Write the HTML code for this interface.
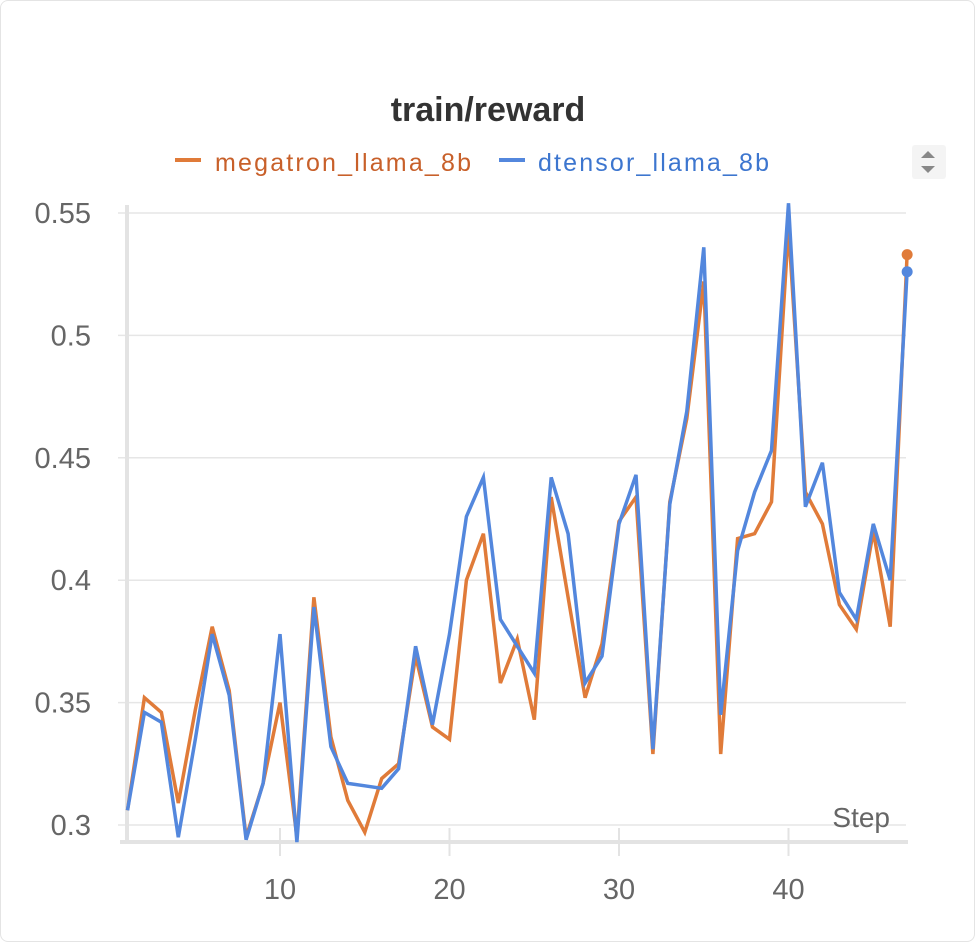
<!DOCTYPE html>
<html><head><meta charset="utf-8">
<style>
html,body{margin:0;padding:0;background:#fff;}
body{width:975px;height:937px;overflow:hidden;font-family:"Liberation Sans",sans-serif;}
.card{position:absolute;left:0;top:0;width:973px;height:940px;border:1px solid #e4e4e4;border-radius:8px;}
</style></head>
<body>
<div class="card"></div>
<svg id="chart" width="975" height="937" style="position:absolute;left:0;top:0">
<text x="488" y="121" text-anchor="middle" font-size="34" font-weight="bold" fill="#333">train/reward</text>
<g>
<line x1="175" y1="160" x2="201" y2="160" stroke="#e07b39" stroke-width="4"/>
<text x="215" y="171" font-size="25" fill="#c8602a" textLength="256">megatron_llama_8b</text></g>
<g>
<line x1="499" y1="160" x2="525" y2="160" stroke="#5387dd" stroke-width="4"/>
<text x="538" y="171" font-size="25" fill="#3d76cf" textLength="231">dtensor_llama_8b</text></g>
<g>
<rect x="912" y="145" width="34" height="34" fill="#f4f4f4" rx="3"/>
<path d="M921 158 L928 151 L935 158 Z" fill="#888"/><path d="M921 166 L928 173 L935 166 Z" fill="#888"/></g>
<g id="grid"></g>
<g id="axes"></g>
<g id="series"></g>
<text x="890" y="827" text-anchor="end" font-size="28" fill="#666">Step</text>
</svg>
<script>
const steps=[1,2,3,4,5,6,7,8,9,10,11,12,13,14,15,16,17,18,19,20,21,22,23,24,25,26,27,28,29,30,31,32,33,34,35,36,37,38,39,40,41,42,43,44,45,46,47];
const megatron=[0.306,0.352,0.346,0.309,0.347,0.381,0.355,0.295,0.317,0.350,0.295,0.393,0.336,0.310,0.297,0.319,0.325,0.369,0.340,0.335,0.400,0.419,0.358,0.376,0.343,0.434,0.393,0.352,0.374,0.424,0.434,0.329,0.432,0.466,0.522,0.329,0.417,0.419,0.432,0.544,0.436,0.423,0.390,0.380,0.420,0.381,0.533];
const dtensor=[0.306,0.346,0.342,0.295,0.335,0.378,0.353,0.294,0.317,0.378,0.293,0.389,0.332,0.317,0.316,0.315,0.323,0.373,0.341,0.378,0.426,0.442,0.384,0.373,0.362,0.442,0.419,0.358,0.369,0.423,0.443,0.331,0.431,0.469,0.536,0.345,0.412,0.436,0.453,0.554,0.430,0.448,0.395,0.384,0.423,0.400,0.526];
const yTicks=[0.3,0.35,0.4,0.45,0.5,0.55];
const yTickLabels=["0.3","0.35","0.4","0.45","0.5","0.55"];
const xTicks=[10,20,30,40];
const NS="http://www.w3.org/2000/svg";
const X=s=>280+(s-10)*16.95;
const Y=v=>825-(v-0.3)*2448;
function mk(t,a,p){const e=document.createElementNS(NS,t);for(const k in a)e.setAttribute(k,a[k]);p.appendChild(e);return e;}
const grid=document.getElementById('grid'),axes=document.getElementById('axes'),ser=document.getElementById('series');
yTicks.forEach((v,i)=>{
 const l=mk('line',{x1:118,x2:906,y1:Y(v),y2:Y(v),stroke:'#e6e6e6','stroke-width':1.5},grid);
 
 
 const t=mk('text',{x:91,y:Y(v)+10,'text-anchor':'end','font-size':29,fill:'#666'},axes);
 t.textContent=yTickLabels[i];
 
 
});
const la=mk('line',{x1:127,x2:127,y1:205,y2:842,stroke:'#e3e3e3','stroke-width':4},axes);


const ba=mk('line',{x1:120,x2:908,y1:842,y2:842,stroke:'#e3e3e3','stroke-width':4},axes);


xTicks.forEach(s=>{
 const tk=mk('line',{x1:X(s),x2:X(s),y1:828,y2:856,stroke:'#e3e3e3','stroke-width':2},axes);
 
 
 const t=mk('text',{x:X(s),y:899,'text-anchor':'middle','font-size':29,fill:'#666'},axes);
 t.textContent=String(s);
 
 
});
function draw(vals,color,name){
 const d=vals.map((v,i)=>(i?'L':'M')+X(steps[i]).toFixed(1)+' '+Y(v).toFixed(1)).join(' ');
 const p=mk('path',{d:d,fill:'none',stroke:color,'stroke-width':3.5,'stroke-linejoin':'miter'},ser);
 
 
 const n=vals.length-1;
 const c=mk('circle',{cx:X(steps[n]),cy:Y(vals[n]),r:5.5,fill:color},ser);
 
 
}
draw(megatron,'#e07b39','megatron');
draw(dtensor,'#5387dd','dtensor');
</script>
</body></html>
